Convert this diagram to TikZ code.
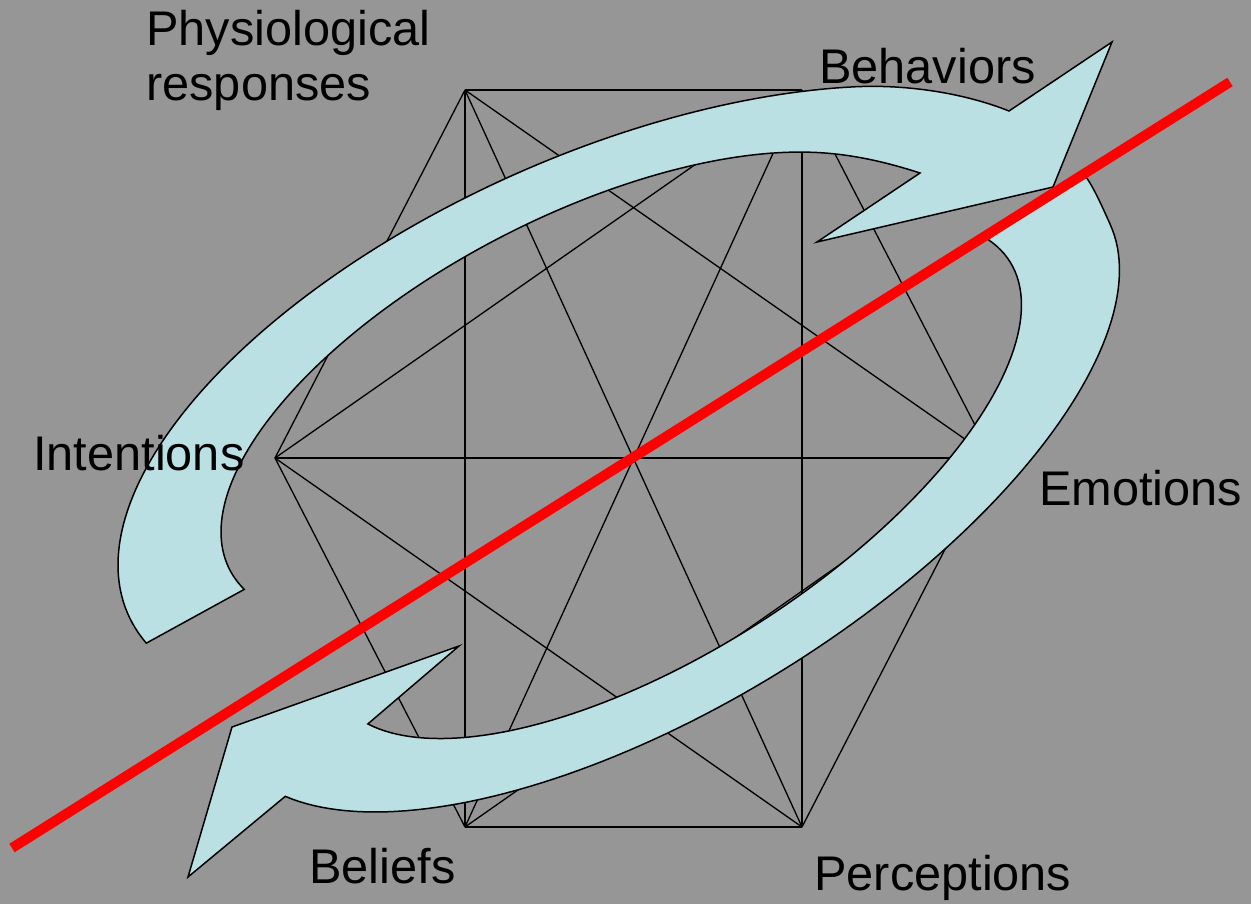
\documentclass[tikz,border=0pt]{standalone}
\usepackage{fontspec}
\setmainfont{Liberation Sans}
\definecolor{bggray}{RGB}{150,150,150}
\definecolor{ringblue}{RGB}{186,224,228}
\begin{document}
\begin{tikzpicture}[x=0.02cm,y=-0.02cm,
  graphline/.style={draw=black, line width=0.75pt},
  arrowbody/.style={fill=ringblue, draw=black, line width=0.85pt},
  redbar/.style={draw=red, line width=5.7pt},
  lbl/.style={anchor=base west, inner sep=0pt, text=black, font=\fontsize{27.7}{32}\selectfont}]
% canvas
\fill[bggray] (0,0) rectangle (1251,904);
\useasboundingbox (0,0) rectangle (1251,904);

% the six corners of the star figure
\coordinate (A) at (465,90);
\coordinate (B) at (802,90);
\coordinate (C) at (992,458);
\coordinate (D) at (802,827);
\coordinate (E) at (465,827);
\coordinate (F) at (275,458);

% every pair of corners joined
\foreach \u/\v in {A/B,A/C,A/D,A/E,A/F,B/C,B/D,B/E,B/F,C/D,C/E,C/F,D/E,D/F,E/F}
  \draw[graphline] (\u) -- (\v);

% upper curved arrow (elliptic band), head pointing right
\filldraw[arrowbody]
  plot[domain=0:1, samples=100, variable=\s]
    ({618+490.04*cos(187.9-137.9*\s)-99.42*sin(187.9-137.9*\s)},
     {398.3-215.9*cos(187.9-137.9*\s)-225.66*sin(187.9-137.9*\s)})
  .. controls (906.8,84.3) and (964,93) .. (1009,111)
  -- (1112,42) -- (1053,187) -- (817,242) -- (920,173)
  .. controls (880,160) and (841.4,152.1) .. (801.4,152.1)
  -- plot[domain=40:188.1, samples=100, variable=\t]
    ({582+352.36*cos(\t)-78.54*sin(\t)},
     {388.9-180.71*cos(\t)-153.13*sin(\t)})
  -- cycle;

% lower curved arrow (elliptic band), head pointing left
\filldraw[arrowbody]
  (1082,172) .. controls (1092,182) and (1105.4,214.1) .. (1110,223.95)
  -- plot[domain=0:1, samples=100, variable=\s]
    ({669.5+435.06*cos(-3-160.67*\s)-114.89*sin(-3-160.67*\s)},
     {484.4-270.49*cos(-3-160.67*\s)-184.79*sin(-3-160.67*\s)})
  -- (188,877) -- (232,727) -- (459,646)
  -- plot[domain=-166.63:10.2, samples=100, variable=\t]
    ({673.5+335.84*cos(\t)-91.09*sin(\t)},
     {479.1-218.37*cos(\t)-140.09*sin(\t)})
  -- cycle;

% labels
\node[lbl] (phys1) at (146,45) {Physiological};
\node[lbl] (phys2) at (146,100) {responses};
\node[lbl] (behav) at (819,83) {Behaviors};
\node[lbl] (inten) at (33,470) {Intentions};
\node[lbl] (emoti) at (1039,505) {Emotions};
\node[lbl] (belie) at (309,883) {Beliefs};
\node[lbl] (perce) at (814,890) {Perceptions};

% red dividing bar
\coordinate (r1) at (12,848);
\coordinate (r2) at (1230,82);
\draw[redbar] (r1) -- (r2);
\end{tikzpicture}
\end{document}
